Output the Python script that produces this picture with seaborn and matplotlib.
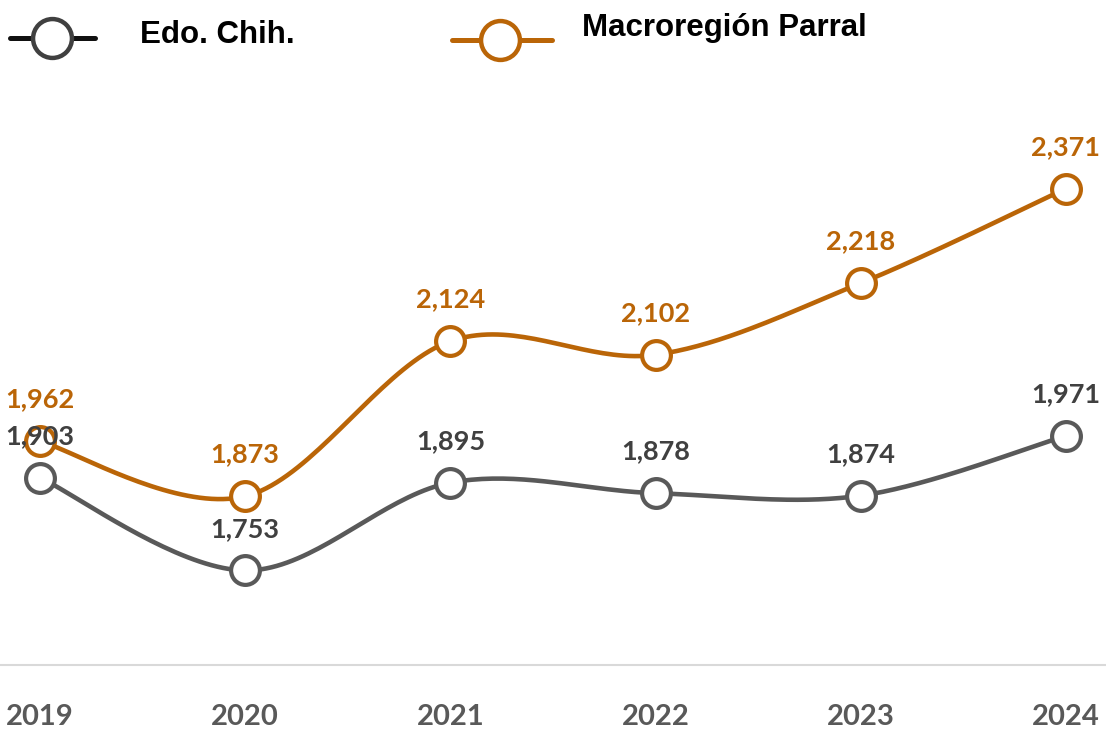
import numpy as np
import pandas as pd
import seaborn as sns
import matplotlib
matplotlib.use("Agg")
import matplotlib.pyplot as plt
from matplotlib.lines import Line2D

years = ["2019", "2020", "2021", "2022", "2023", "2024"]
edo_chih = [1903, 1753, 1895, 1878, 1874, 1971]
macro_parral = [1962, 1873, 2124, 2102, 2218, 2371]

series_names = ["Edo. Chih.", "Macroregión Parral"]
series_values = [edo_chih, macro_parral]

GRAY = "#595959"
GRAY_TXT = "#404040"
ORANGE = "#BA6507"
colors = [GRAY, ORANGE]
text_colors = [GRAY_TXT, ORANGE]

sns.set_theme(style="white")
plt.rcParams["font.family"] = ["Lato", "DejaVu Sans"]


def smooth_curve(xs, ys, steps=40):
    """Cubic Bezier smoothing through every point (Catmull-Rom style)."""
    xs = np.asarray(xs, float)
    ys = np.asarray(ys, float)
    n = len(xs)
    out_x, out_y = [], []
    t = np.linspace(0, 1, steps)
    for i in range(n - 1):
        p0 = np.array([xs[max(i - 1, 0)], ys[max(i - 1, 0)]])
        p1 = np.array([xs[i], ys[i]])
        p2 = np.array([xs[i + 1], ys[i + 1]])
        p3 = np.array([xs[min(i + 2, n - 1)], ys[min(i + 2, n - 1)]])
        c1 = p1 + (p2 - p0) / 6.0
        c2 = p2 - (p3 - p1) / 6.0
        b = ((1 - t) ** 3)[:, None] * p1 + (3 * (1 - t) ** 2 * t)[:, None] * c1 \
            + (3 * (1 - t) * t ** 2)[:, None] * c2 + (t ** 3)[:, None] * p2
        out_x.extend(b[:, 0])
        out_y.extend(b[:, 1])
    return np.array(out_x), np.array(out_y)


fig = plt.figure(figsize=(11.06, 7.29), dpi=100)
ax = fig.add_axes([0.0, 1 - 665 / 729, 1.0, (665 - 47) / 729])

xpos = np.arange(len(years))
for name, vals, col, tcol in zip(series_names, series_values, colors, text_colors):
    sx, sy = smooth_curve(xpos, vals)
    curve = pd.DataFrame({"x": sx, "y": sy})
    sns.lineplot(data=curve, x="x", y="y", ax=ax, color=col, linewidth=3.3,
                 sort=False, estimator=None, zorder=2)
    pts = pd.DataFrame({"x": xpos, "y": vals})
    sns.scatterplot(data=pts, x="x", y="y", ax=ax, s=430, color="white",
                    edgecolor=col, linewidth=3.0, zorder=3)
    for x, v in zip(xpos, vals):
        ax.annotate(f"{v:,}", (x, v), xytext=(0, 30), textcoords="offset points",
                    ha="center", va="center", fontsize=19.5, fontweight="bold",
                    color=tcol, zorder=4)

ax.set_xlim(-0.195, len(years) - 1 + 0.195)
ax.set_ylim(1600, 2600)
ax.set_xticks(xpos)
ax.set_xticklabels(years)
ax.set_yticks([])
ax.set_xlabel("")
ax.set_ylabel("")
ax.tick_params(axis="x", length=0, pad=28, labelsize=21, labelcolor=GRAY)
for lab in ax.get_xticklabels():
    lab.set_fontweight("bold")
for side in ["top", "left", "right"]:
    ax.spines[side].set_visible(False)
ax.spines["bottom"].set_color("#D9D9D9")
ax.spines["bottom"].set_linewidth(1.5)

# Legend drawn along the top of the figure
def px(x, y):
    return x / 1106, 1 - y / 729

legend_items = [
    (10, 95, 52, 38, "#111111", GRAY_TXT, 140, 35, series_names[0]),
    (452, 552, 500, 40, ORANGE, ORANGE, 582, 28, series_names[1]),
]
for x0, x1, xm, y, lcol, mcol, tx, ty, label in legend_items:
    a = px(x0, y)
    b = px(x1, y)
    fig.add_artist(Line2D([a[0], b[0]], [a[1], b[1]], color=lcol, linewidth=3.6,
                          transform=fig.transFigure, zorder=5))
    m = px(xm, y)
    fig.add_artist(Line2D([m[0]], [m[1]], marker="o", markersize=28,
                          markerfacecolor="white", markeredgecolor=mcol,
                          markeredgewidth=3.2, linestyle="none",
                          transform=fig.transFigure, zorder=6))
    t = px(tx, ty)
    fig.text(t[0], t[1], label, ha="left", va="center", fontsize=22.5,
             fontweight="bold", color="black", family=["Liberation Sans", "DejaVu Sans"])

fig.savefig("out.png", dpi=100, facecolor="white")
